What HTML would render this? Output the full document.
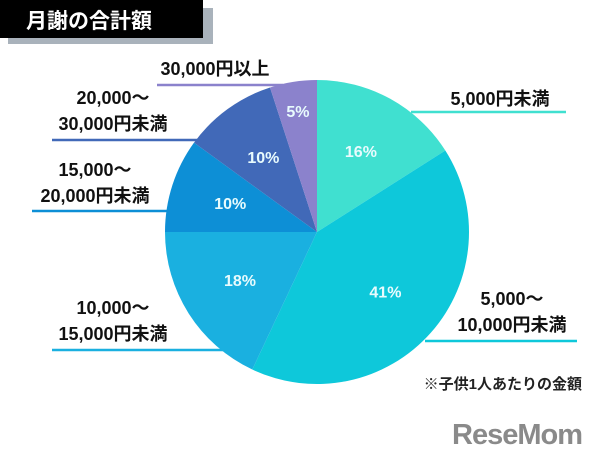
<!DOCTYPE html>
<html><head><meta charset="utf-8"><style>
body{margin:0;width:600px;height:460px;background:#fff;overflow:hidden;font-family:"Liberation Sans","Noto Sans CJK JP",sans-serif}
svg text{font-family:"Liberation Sans","Noto Sans CJK JP",sans-serif;font-weight:bold}
</style></head><body>
<svg width="600" height="460">
<rect x="8" y="8" width="205" height="36" fill="#a9b2bb"/>
<rect x="0" y="0" width="203" height="38" fill="#000"/>
<text x="26" y="28" fill="#fff" font-size="21">月謝の合計額</text>
<g id="slices"></g>
<g id="labels"></g>
<text x="582" y="389" font-size="15" text-anchor="end" fill="#222">※子供1人あたりの金額</text>
<text x="582" y="444" font-size="29" text-anchor="end" fill="#8a8a8a" style="letter-spacing:-1px">ReseMom</text>
</svg>
<script>
const categories=["5,000円未満","5,000〜10,000円未満","10,000〜15,000円未満","15,000〜20,000円未満","20,000〜30,000円未満","30,000円以上"];
const values=[16,41,18,10,10,5];
const colors=["#40e0d0","#0ec8da","#1ab0e0","#0d8fd6","#4169b8","#8b82cc"];
const cx=317,cy=232,r=152;
const NS="http://www.w3.org/2000/svg";
const gs=document.getElementById('slices');
const total=values.reduce((a,b)=>a+b,0);
function pt(a,rr){return [cx+rr*Math.sin(a),cy-rr*Math.cos(a)];}
let acc=0;
values.forEach((v,i)=>{
 const a0=acc/total*2*Math.PI;acc+=v;const a1=acc/total*2*Math.PI;
 const p0=pt(a0,r),p1=pt(a1,r);
 const p=document.createElementNS(NS,'path');
 p.setAttribute('d',`M${cx},${cy}L${p0[0]},${p0[1]}A${r},${r} 0 ${a1-a0>Math.PI?1:0} 1 ${p1[0]},${p1[1]}Z`);
 p.setAttribute('fill',colors[i]);
 
 
 gs.appendChild(p);
 const am=(a0+a1)/2;const rr=v<8?0.8*r:0.6*r;const lp=pt(am,rr);
 const t=document.createElementNS(NS,'text');
 t.setAttribute('x',lp[0]);t.setAttribute('y',lp[1]+5);
 t.setAttribute('text-anchor','middle');t.setAttribute('font-size','16');t.setAttribute('fill','#e8fbfd');
 t.textContent=v+'%';
 
 
 gs.appendChild(t);
});
const gl=document.getElementById('labels');
const L=[
 {lines:["5,000円未満"],tx:500,ty:105,x1:411,x2:566,ly:112},
 {lines:["5,000〜","10,000円未満"],tx:512,ty:305,x1:425,x2:577,ly:341},
 {lines:["10,000〜","15,000円未満"],tx:113,ty:314,x1:52,x2:250,ly:350},
 {lines:["15,000〜","20,000円未満"],tx:95,ty:176,x1:32,x2:170,ly:211},
 {lines:["20,000〜","30,000円未満"],tx:113,ty:104,x1:52,x2:200,ly:140},
 {lines:["30,000円以上"],tx:215,ty:75,x1:157,x2:283,ly:85}
];
L.forEach((o,i)=>{
 const ln=document.createElementNS(NS,'line');
 ln.setAttribute('x1',o.x1);ln.setAttribute('x2',o.x2);ln.setAttribute('y1',o.ly);ln.setAttribute('y2',o.ly);
 ln.setAttribute('stroke',colors[i]);ln.setAttribute('stroke-width','2.5');
 
 
 gl.appendChild(ln);
 o.lines.forEach((s,j)=>{
  const t=document.createElementNS(NS,'text');
  t.setAttribute('x',o.tx);t.setAttribute('y',o.ty+j*26);
  t.setAttribute('text-anchor','middle');t.setAttribute('font-size','18');t.setAttribute('fill','#111');
  t.textContent=s;
  
  
  gl.appendChild(t);
 });
});
</script>
</body></html>
